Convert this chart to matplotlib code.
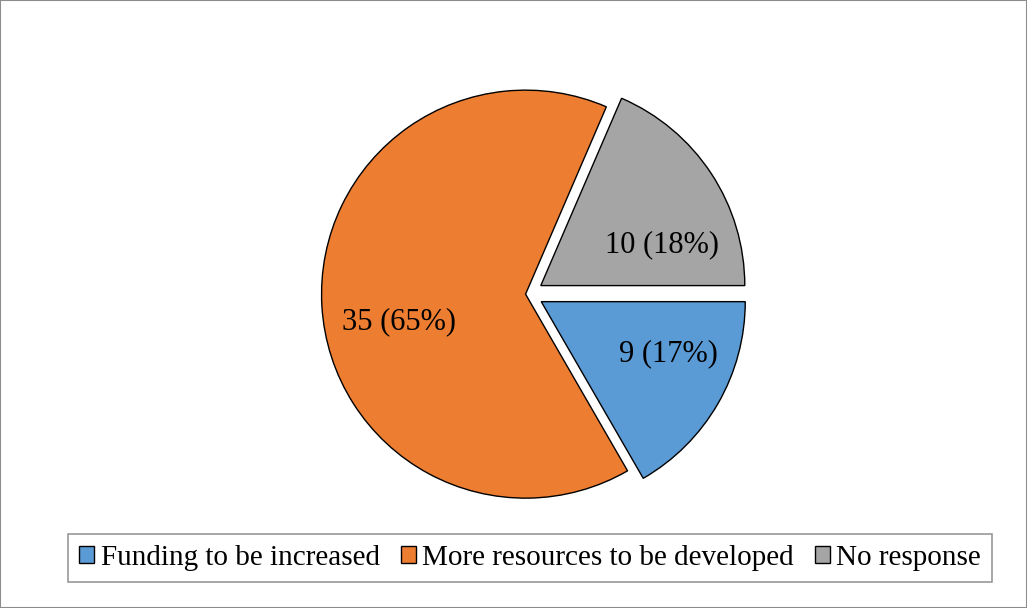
import numpy as np
import matplotlib
matplotlib.use('Agg')
import matplotlib.pyplot as plt
from matplotlib.patches import Rectangle

labels = ['Funding to be increased', 'More resources to be developed', 'No response']
counts = [9, 35, 10]
percents = [17, 65, 18]
colors = ['#5B9BD5', '#ED7D31', '#A5A5A5']
explode = [0.075, 0.012, 0.075]

plt.rcParams.update({'font.family': 'Liberation Serif', 'font.size': 15})

W, H = 1027, 608
fig = plt.figure(figsize=(W/100, H/100), dpi=100)
fig.patches.append(Rectangle((0, 0), 1, 1, transform=fig.transFigure,
                             fill=False, edgecolor='#8c8c8c', lw=1.5))

# pie centre and radius in pixels
cx, cy, r = 528, 608-294, 204
half = r*1.25
ax = fig.add_axes([(cx-half)/W, (cy-half)/H, 2*half/W, 2*half/H])
ax.set_xlim(-1.25, 1.25)
ax.set_ylim(-1.25, 1.25)
ax.set_aspect('equal')
ax.axis('off')

wedges, _ = ax.pie(counts, colors=colors, explode=explode,
                   startangle=0, counterclock=False, radius=1,
                   wedgeprops=dict(edgecolor='black', linewidth=1.0))

# data label placement (polar: angle deg, distance in radii)
label_pos = [(-23, 0.75), (192, 0.645), (20, 0.70)]
for n, p, (ang, d) in zip(counts, percents, label_pos):
    a = np.deg2rad(ang)
    ax.text(d*np.cos(a), d*np.sin(a), f'{n} ({p}%)', ha='center', va='center',
            fontsize=22, color='black')

handles = [Rectangle((0, 0), 1, 1, facecolor=c, edgecolor='black', lw=1) for c in colors]
leg = fig.legend(handles, labels, loc='center', bbox_to_anchor=(530/W, 50/H), ncol=3,
                 fontsize=21, frameon=True, fancybox=False, edgecolor='#7f7f7f',
                 handlelength=0.52, handleheight=0.52, handletextpad=0.22,
                 columnspacing=0.72, borderpad=0.38)
leg.get_frame().set_linewidth(1.2)

fig.savefig('out.png', dpi=100)
